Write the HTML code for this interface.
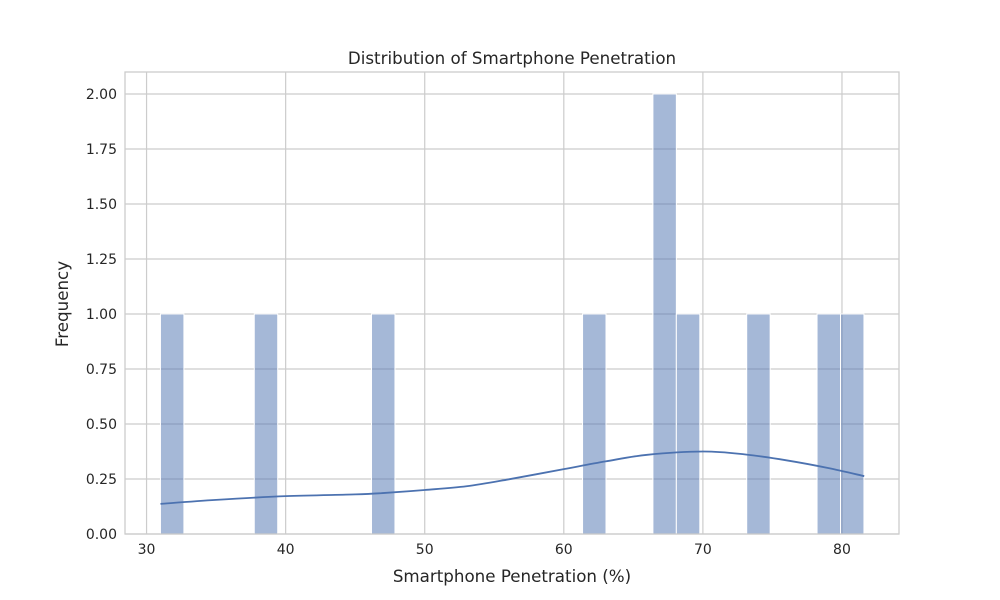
<!DOCTYPE html>
<html><head><meta charset="utf-8"><style>
html,body{margin:0;padding:0;background:#fff;}
svg{display:block;font-family:"DejaVu Sans","Liberation Sans",sans-serif;}
</style></head><body>
<svg id="chart" width="1000" height="600"></svg>
<script>
const binCounts = [1,0,0,0,1,0,0,0,0,1,0,0,0,0,0,0,0,0,1,0,0,2,1,0,0,1,0,0,1,1];
const binStart = 31.0;
const binWidth = 1.686;
const kdeX = [31,35,40,45,47,50,53,56,60,63,66,70,73,76,79,81.6];
const kdeY = [0.137,0.155,0.172,0.180,0.186,0.200,0.217,0.248,0.295,0.330,0.360,0.375,0.362,0.335,0.300,0.263];
const xTicks = [30,40,50,60,70,80];
const yTicks = [0,0.25,0.5,0.75,1.0,1.25,1.5,1.75,2.0];

const NS="http://www.w3.org/2000/svg";
const svg=document.getElementById('chart');
const L=125,R=899,T=72,B=534;
const xMin=28.45,xMax=84.1,yMin=0,yMax=2.1;
const sx=v=>L+(v-xMin)/(xMax-xMin)*(R-L);
const sy=v=>B-(v-yMin)/(yMax-yMin)*(B-T);
function mk(tag,attrs,parent){const e=document.createElementNS(NS,tag);for(const k in attrs)e.setAttribute(k,attrs[k]);(parent||svg).appendChild(e);return e;}

const grid=mk('g',{});


xTicks.forEach(t=>{mk('line',{x1:sx(t),x2:sx(t),y1:T,y2:B,stroke:'#cccccc','stroke-width':1.2},grid);
 const tx=mk('text',{x:sx(t),y:B+20,'text-anchor':'middle','font-size':14,fill:'#262626'});tx.textContent=t;
 
 });
yTicks.forEach(t=>{mk('line',{x1:L,x2:R,y1:sy(t),y2:sy(t),stroke:'#cccccc','stroke-width':1.2},grid);
 const tx=mk('text',{x:L-8,y:sy(t)+5,'text-anchor':'end','font-size':14,fill:'#262626'});tx.textContent=t.toFixed(2);
 
 });

const bars=mk('g',{});


binCounts.forEach((c,i)=>{if(!c)return;
 const x0=sx(binStart+i*binWidth),x1=sx(binStart+(i+1)*binWidth);
 const r=mk('rect',{x:x0,y:sy(c),width:x1-x0,height:sy(0)-sy(c),fill:'rgba(76,114,176,0.5)',stroke:'#ffffff','stroke-width':1},bars);
 
 });

const pts=kdeX.map((x,i)=>[sx(x),sy(kdeY[i])]);
let d='M'+pts[0][0]+','+pts[0][1];
for(let i=0;i<pts.length-1;i++){const p0=pts[i-1]||pts[i],p1=pts[i],p2=pts[i+1],p3=pts[i+2]||p2;
 d+=' C'+(p1[0]+(p2[0]-p0[0])/6)+','+(p1[1]+(p2[1]-p0[1])/6)+' '+(p2[0]-(p3[0]-p1[0])/6)+','+(p2[1]-(p3[1]-p1[1])/6)+' '+p2[0]+','+p2[1];}
const kde=mk('path',{d:d,fill:'none',stroke:'#4c72b0','stroke-width':1.8});



const frame=mk('rect',{x:L,y:T,width:R-L,height:B-T,fill:'none',stroke:'#cccccc','stroke-width':1.3});



const title=mk('text',{x:(L+R)/2,y:64,'text-anchor':'middle','font-size':16.7,fill:'#262626'});title.textContent='Distribution of Smartphone Penetration';


const xl=mk('text',{x:(L+R)/2,y:582,'text-anchor':'middle','font-size':16.7,fill:'#262626'});xl.textContent='Smartphone Penetration (%)';


const yl=mk('text',{x:0,y:0,'text-anchor':'middle','font-size':16.7,fill:'#262626',transform:'translate(68,304) rotate(-90)'});yl.textContent='Frequency';


</script>
</body></html>
